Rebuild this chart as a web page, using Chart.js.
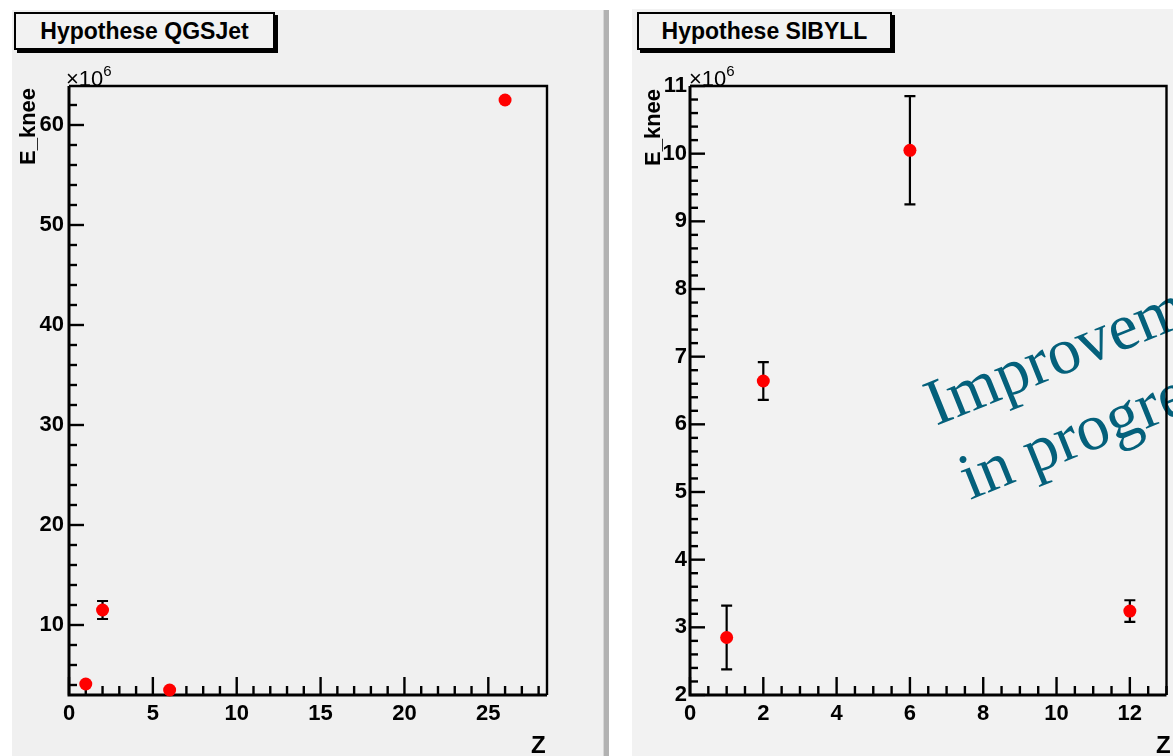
<!DOCTYPE html>
<html>
<head>
<meta charset="utf-8">
<script src="https://cdn.jsdelivr.net/npm/chart.js@4.4.1/dist/chart.umd.min.js"></script>
<style>
body { margin: 0; background: #fff; width: 1173px; height: 756px; overflow: hidden; position: relative; font-family: "Liberation Sans", Arial, sans-serif; }
.abs { position: absolute; }
#leftPanel { left: 12px; top: 10px; width: 591px; height: 746px; background: #f0f0f0; }
#divider { left: 603px; top: 10px; width: 5px; height: 746px; background: #b2b2b2; border-left: 1px solid #d6d6d6; }
#rightPanel { left: 632px; top: 9px; width: 541px; height: 747px; background: #f2f2f2; }
.titlebox { position: absolute; top: 12px; height: 34px; border: 2px solid #000; background: #f2f2f2; box-shadow: 3px 3px 0 #000;
  font-weight: bold; font-size: 23px; line-height: 35px; text-align: center; color: #000; }
.mult { position: absolute; top: 62px; font-size: 22px; line-height: 22px; color: #000; }
.mult sup { font-size: 15px; position: relative; top: -2px; }
.ytitle { position: absolute; font-weight: bold; font-size: 22px; line-height: 0; white-space: nowrap; transform-origin: 0 0; transform: rotate(-90deg) translateY(-7.5px); }
.xtitle { position: absolute; top: 733px; font-weight: bold; font-size: 24px; line-height: 24px; }
.wm { position: absolute; font-family: "Liberation Serif", serif; font-size: 66px; line-height: 0; color: #04607b; white-space: nowrap;
  transform-origin: 0 0; transform: rotate(-22deg) translateY(-22px); }
canvas { position: absolute; top: 0; }
#leftCanvas { left: 12px; }
#rightCanvas { left: 632px; }
</style>
</head>
<body>
<div id="leftPanel" class="abs"></div>
<div id="divider" class="abs"></div>
<div id="rightPanel" class="abs"></div>

<div class="titlebox" style="left:14px;width:257px;">Hypothese QGSJet</div>
<div class="titlebox" style="left:637px;width:251px;">Hypothese SIBYLL</div>

<div class="wm" style="left:936px;top:426px;">Improvement</div>
<div class="wm" style="left:970px;top:500px;">in progress</div>

<canvas id="leftCanvas" width="591" height="756"></canvas>
<canvas id="rightCanvas" width="541" height="756"></canvas>

<div class="mult" style="left:66px;">×10<sup>6</sup></div>
<div class="mult" style="left:689px;">×10<sup>6</sup></div>
<div class="ytitle" style="left:35px;top:165px;">E_knee</div>
<div class="ytitle" style="left:660px;top:166px;">E_knee</div>
<div class="xtitle" style="left:531px;">Z</div>
<div class="xtitle" style="left:1156px;">Z</div>

<script>
// QGSJet hypothesis (left)
const qgsZ = [1, 2, 6, 26];
const qgsEknee = [4.1, 11.5, 3.5, 62.5];
const qgsErr = [0, 0.9, 0, 0];
const qgsXTicks = [0, 5, 10, 15, 20, 25];
const qgsYTicks = [10, 20, 30, 40, 50, 60];

// SIBYLL hypothesis (right)
const sibZ = [1, 2, 6, 12];
const sibEknee = [2.85, 6.64, 10.05, 3.24];
const sibErr = [0.47, 0.28, 0.8, 0.16];
const sibXTicks = [0, 2, 4, 6, 8, 10, 12];
const sibYTicks = [2, 3, 4, 5, 6, 7, 8, 9, 10, 11];

const tickFont = { family: 'Liberation Sans', weight: 'bold', size: 22 };

// ROOT-like frame, inward ticks and error bars
const rootStyle = {
    id: 'rootStyle',
    beforeDatasetsDraw(chart, args, opts) {
        const ctx = chart.ctx;
        const a = chart.chartArea;
        const xs = chart.scales.x;
        const ys = chart.scales.y;
        ctx.save();
        ctx.strokeStyle = '#000';
        ctx.lineWidth = 2.4;

        // x ticks (pointing up)
        const nx = Math.round((xs.max - xs.min) / opts.xMinor);
        for (let i = 0; i <= nx; i++) {
            const v = xs.min + i * opts.xMinor;
            if (v > xs.max + 1e-9) break;
            const major = opts.xMajors.some(m => Math.abs(m - v) < 1e-6);
            const p = xs.getPixelForValue(v);
            ctx.beginPath();
            ctx.moveTo(p, a.bottom);
            ctx.lineTo(p, a.bottom - (major ? 18 : 9));
            ctx.stroke();
        }
        // y ticks (pointing right)
        const y0 = Math.ceil(ys.min / opts.yMinor - 1e-6);
        const y1 = Math.floor(ys.max / opts.yMinor + 1e-6);
        for (let i = y0; i <= y1; i++) {
            const v = i * opts.yMinor;
            const major = opts.yMajors.some(m => Math.abs(m - v) < 1e-6);
            const p = ys.getPixelForValue(v);
            ctx.beginPath();
            ctx.moveTo(a.left, p);
            ctx.lineTo(a.left + (major ? 15 : 8), p);
            ctx.stroke();
        }

        // frame
        ctx.lineWidth = 2.4;
        ctx.beginPath();
        ctx.moveTo(a.left, a.top);
        ctx.lineTo(a.right, a.top);
        ctx.lineTo(a.right, a.bottom);
        ctx.stroke();
        ctx.lineWidth = 3;
        ctx.beginPath();
        ctx.moveTo(a.left, a.top);
        ctx.lineTo(a.left, a.bottom);
        ctx.lineTo(a.right, a.bottom);
        ctx.stroke();

        // error bars
        ctx.lineWidth = 2.2;
        const ds = chart.data.datasets[0].data;
        ds.forEach((pt, i) => {
            const e = opts.errors[i];
            if (!e) return;
            const px = xs.getPixelForValue(pt.x);
            const top = ys.getPixelForValue(pt.y + e);
            const bot = ys.getPixelForValue(pt.y - e);
            ctx.beginPath();
            ctx.moveTo(px, top);
            ctx.lineTo(px, bot);
            ctx.moveTo(px - 5.5, top);
            ctx.lineTo(px + 5.5, top);
            ctx.moveTo(px - 5.5, bot);
            ctx.lineTo(px + 5.5, bot);
            ctx.stroke();
        });
        ctx.restore();
    }
};

function makeChart(id, zs, es, errs, xTicks, yTicks, xr, yr, minors, yAxisWidth, rightPad, yLabelPad) {
    return new Chart(document.getElementById(id), {
        type: 'scatter',
        data: {
            datasets: [{
                data: zs.map((z, i) => ({ x: z, y: es[i] })),
                pointRadius: 6.5,
                pointHoverRadius: 6.5,
                pointBackgroundColor: '#ff0000',
                pointBorderWidth: 0,
                showLine: false,
                clip: false
            }]
        },
        options: {
            responsive: false,
            animation: false,
            events: [],
            layout: { padding: { left: 0, top: 86, right: rightPad, bottom: 0 } },
            plugins: {
                legend: { display: false },
                tooltip: { enabled: false },
                rootStyle: { errors: errs, xMajors: xTicks, yMajors: yTicks, xMinor: minors[0], yMinor: minors[1] }
            },
            scales: {
                x: {
                    type: 'linear', min: xr[0], max: xr[1],
                    grid: { display: false, drawTicks: false },
                    border: { display: false },
                    ticks: { font: tickFont, color: '#000', padding: 6, maxRotation: 0, autoSkip: false },
                    afterBuildTicks: s => { s.ticks = xTicks.map(v => ({ value: v })); },
                    afterFit: s => { s.height = 61; }
                },
                y: {
                    type: 'linear', min: yr[0], max: yr[1],
                    grid: { display: false, drawTicks: false },
                    border: { display: false },
                    ticks: { font: tickFont, color: '#000', padding: yLabelPad, autoSkip: false },
                    afterBuildTicks: s => { s.ticks = yTicks.map(v => ({ value: v })); },
                    afterFit: s => { s.width = yAxisWidth; }
                }
            }
        },
        plugins: [rootStyle]
    });
}

makeChart('leftCanvas', qgsZ, qgsEknee, qgsErr, qgsXTicks, qgsYTicks, [0, 28.5], [3, 63.9], [1, 2], 57, 56, 5);
makeChart('rightCanvas', sibZ, sibEknee, sibErr, sibXTicks, sibYTicks, [0, 13], [2, 11], [0.5, 0.2], 58, 2, 3);
</script>
</body>
</html>
